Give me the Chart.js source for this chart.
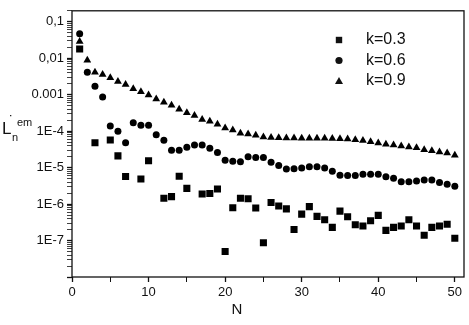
<!DOCTYPE html>
<html>
<head>
<meta charset="utf-8">
<script src="https://cdn.jsdelivr.net/npm/chart.js@4.4.1/dist/chart.umd.min.js"></script>
<style>
  html, body { margin: 0; padding: 0; background: #fff; }
  #wrap { width: 469px; height: 325px; }
</style>
</head>
<body>
<div id="wrap"><canvas id="c" width="469" height="325"></canvas></div>
<script>
/* --- data (null = no point drawn) --- */
var nValues = [];
for (var i = 1; i <= 50; i++) nValues.push(i);

var k03 = [0.018, null, 4.8e-5, null, 5.7e-5, 2.1e-5, 5.7e-6, null, 4.9e-6, 1.55e-5,
  null, 1.45e-6, 1.6e-6, 5.8e-6, 2.7e-6, null, 1.9e-6, 1.95e-6, 2.6e-6, 5.0e-8,
  7.9e-7, 1.45e-6, 1.4e-6, 7.8e-7, 8.7e-8, 1.1e-6, 8.9e-7, 7.4e-7, 2.0e-7, 5.3e-7,
  8.5e-7, 4.6e-7, 3.7e-7, 2.3e-7, 6.4e-7, 4.5e-7, 2.7e-7, 2.5e-7, 3.5e-7, 4.9e-7,
  1.9e-7, 2.3e-7, 2.5e-7, 3.7e-7, 2.5e-7, 1.4e-7, 2.3e-7, 2.5e-7, 2.8e-7, 1.15e-7];

var k06 = [0.047, 0.0041, 0.0017, 0.00087, 1.38e-4, 1.0e-4, 4.8e-5, 1.7e-4, 1.45e-4, 1.45e-4,
  8.0e-5, 5.6e-5, 3.0e-5, 3.0e-5, 3.6e-5, 4.2e-5, 4.2e-5, 3.4e-5, 2.6e-5, 1.6e-5,
  1.5e-5, 1.46e-5, 2.0e-5, 1.9e-5, 1.9e-5, 1.4e-5, 1.15e-5, 9.1e-6, 9.3e-6, 9.8e-6,
  1.05e-5, 1.05e-5, 9.8e-6, 7.9e-6, 6.2e-6, 6.1e-6, 6.1e-6, 6.6e-6, 6.6e-6, 6.6e-6,
  5.6e-6, 5.1e-6, 4.1e-6, 4.1e-6, 4.3e-6, 4.6e-6, 4.6e-6, 3.9e-6, 3.5e-6, 3.1e-6];

var k09 = [0.029, 0.0088, 0.0041, 0.0036, 0.0029, 0.0023, 0.0019, 0.00146, 0.0012, 0.00098,
  0.00076, 0.00062, 0.00051, 0.0004, 0.00032, 0.00027, 0.00021, 0.000186, 0.000154, 0.000123,
  0.000108, 8.8e-5, 8.3e-5, 7.7e-5, 6.9e-5, 6.7e-5, 6.6e-5, 6.5e-5, 6.5e-5, 6.4e-5,
  6.4e-5, 6.4e-5, 6.4e-5, 6.3e-5, 6.2e-5, 6.1e-5, 5.8e-5, 5.5e-5, 5.1e-5, 4.7e-5,
  4.4e-5, 4.2e-5, 3.9e-5, 3.7e-5, 3.5e-5, 3.1e-5, 2.9e-5, 2.7e-5, 2.5e-5, 2.2e-5];

var seriesLabels = ['k=0.3', 'k=0.6', 'k=0.9'];

var xTickValues = [0, 5, 10, 15, 20, 25, 30, 35, 40, 45, 50];
var xTickLabels = ['0', '', '10', '', '20', '', '30', '', '40', '', '50'];

var yDecades = [0.1, 0.01, 0.001, 1e-4, 1e-5, 1e-6, 1e-7, 1e-8];
var yTickLabels = ['0,1', '0,01', '0.001', '1E-4', '1E-5', '1E-6', '1E-7', ''];

/* --- helpers --- */
function toPoints(vals) {
  var out = [];
  for (var i = 0; i < vals.length; i++) {
    if (vals[i] !== null) out.push({ x: nValues[i], y: vals[i] });
  }
  return out;
}

// decades plus the 2..9 minor positions, only inside the axis range
function yTickList() {
  var list = [];
  for (var d = 0; d < yDecades.length; d++) {
    for (var m = 1; m <= 9; m++) {
      var v = yDecades[d] * m;
      if (v >= 1e-8 && v <= 0.2 + 1e-12) list.push({ value: v });
    }
  }
  list.sort(function(a, b) { return a.value - b.value; });
  return list;
}

function yLabel(v) {
  for (var i = 0; i < yDecades.length; i++) {
    if (Math.abs(Math.log10(v) - Math.log10(yDecades[i])) < 1e-6) return yTickLabels[i];
  }
  return '';
}

function isDecade(v) {
  var l = Math.log10(v);
  return Math.abs(l - Math.round(l)) < 1e-6;
}

var FONT = '"Liberation Sans", Arial, Helvetica, sans-serif';

/* --- frame, y title, N and legend --- */
var decorPlugin = {
  id: 'decor',
  afterDraw: function(chart) {
    var ctx = chart.ctx;
    var a = chart.chartArea;
    ctx.save();
    ctx.strokeStyle = '#111';
    ctx.lineWidth = 1.3;
    ctx.strokeRect(a.left, a.top, a.right - a.left, a.bottom - a.top);

    ctx.fillStyle = '#111';
    ctx.textBaseline = 'alphabetic';
    ctx.textAlign = 'left';
    // y title: L with dot, sub n, sup em
    ctx.font = '17px ' + FONT;
    ctx.fillText('L', 2, 134);
    ctx.font = '14px ' + FONT;
    ctx.fillText('\u02D9', 9, 126);
    ctx.font = '11px ' + FONT;
    ctx.fillText('n', 12, 141);
    ctx.fillText('em', 17, 126);

    // x title
    ctx.font = '15px ' + FONT;
    ctx.textAlign = 'center';
    ctx.textBaseline = 'middle';
    ctx.fillText('N', 237, 310);

    // legend
    var rows = [40, 60.5, 81];
    var styles = ['rect', 'circle', 'triangle'];
    var mx = 339;
    for (var i = 0; i < seriesLabels.length; i++) {
      var y = rows[i];
      ctx.beginPath();
      if (styles[i] === 'rect') {
        ctx.rect(mx - 3.2, y - 3.2, 6.4, 6.4);
      } else if (styles[i] === 'circle') {
        ctx.arc(mx, y, 3.6, 0, Math.PI * 2);
      } else {
        ctx.moveTo(mx, y - 4);
        ctx.lineTo(mx + 4, y + 3);
        ctx.lineTo(mx - 4, y + 3);
        ctx.closePath();
      }
      ctx.fill();
      ctx.font = '16px ' + FONT;
      ctx.textAlign = 'left';
      ctx.textBaseline = 'middle';
      ctx.fillText(seriesLabels[i], 366, y);
    }
    ctx.restore();
  }
};

var ds = function(label, vals, style, r) {
  return {
    label: label,
    data: toPoints(vals),
    showLine: false,
    pointStyle: style,
    pointRadius: r,
    pointBackgroundColor: '#000',
    pointBorderColor: '#000',
    pointBorderWidth: 0
  };
};

new Chart(document.getElementById('c'), {
  type: 'scatter',
  data: {
    datasets: [
      ds(seriesLabels[0], k03, 'rect', 5),
      ds(seriesLabels[1], k06, 'circle', 3.5),
      ds(seriesLabels[2], k09, 'triangle', 4.5)
    ]
  },
  options: {
    responsive: false,
    animation: false,
    events: [],
    layout: { padding: { left: 0, right: 3, top: 5, bottom: 0 } },
    plugins: { legend: { display: false }, tooltip: { enabled: false } },
    scales: {
      x: {
        type: 'linear',
        min: 0,
        max: 51.2,
        afterBuildTicks: function(s) {
          s.ticks = xTickValues.map(function(v) { return { value: v }; });
        },
        afterFit: function(s) { s.height = 48; },
        border: { display: false },
        grid: {
          drawOnChartArea: false,
          tickLength: 5,
          tickColor: '#111',
          tickWidth: function(c) { return c.tick && c.tick.value % 10 === 0 ? 1.3 : 1; }
        },
        ticks: {
          autoSkip: false,
          maxRotation: 0,
          padding: 3,
          color: '#111',
          font: { family: FONT, size: 13 },
          callback: function(v) {
            var i = xTickValues.indexOf(v);
            return i >= 0 ? xTickLabels[i] : '';
          }
        }
      },
      y: {
        type: 'logarithmic',
        min: 1e-8,
        max: 0.2,
        afterBuildTicks: function(s) { s.ticks = yTickList(); },
        afterFit: function(s) { s.width = 72; },
        border: { display: false },
        grid: {
          drawOnChartArea: false,
          tickLength: 5,
          tickColor: '#111',
          tickWidth: function(c) { return c.tick && isDecade(c.tick.value) ? 1.3 : 0.8; }
        },
        ticks: {
          autoSkip: false,
          padding: 3,
          color: '#111',
          font: { family: FONT, size: 13 },
          callback: function(v) { return yLabel(v); }
        }
      }
    }
  },
  plugins: [decorPlugin]
});
</script>
</body>
</html>
